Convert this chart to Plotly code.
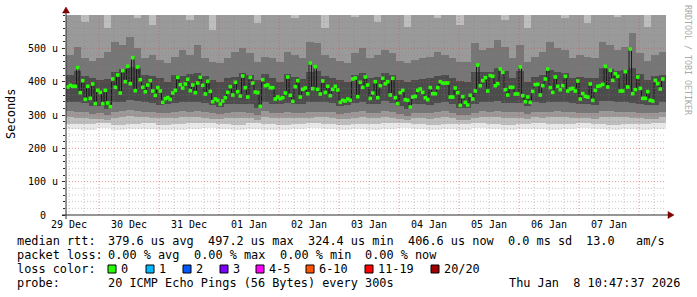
import pandas as pd
import plotly.graph_objects as go

# ---------------- data ----------------
START = pd.Timestamp("2025-12-29 10:47:37")
END = pd.Timestamp("2026-01-08 10:47:37")

# hourly median RTT (microseconds), first value centred at 29 Dec 11:30
median_us = [
    384, 389, 386, 386, 442, 367, 403, 347, 386, 350, 393, 334, 374, 368, 334, 374, 336, 325, 408, 383,
    420, 366, 433, 400, 446, 394, 472, 373, 444, 406, 383, 370, 390, 403, 372, 359, 382, 372, 338, 349,
    352, 347, 366, 374, 413, 391, 381, 393, 407, 373, 390, 367, 396, 413, 389, 363, 401, 371, 340, 348,
    344, 333, 342, 352, 368, 385, 360, 398, 370, 357, 417, 382, 354, 413, 396, 369, 367, 326, 406, 388,
    390, 382, 382, 348, 354, 349, 352, 366, 414, 359, 341, 385, 403, 354, 377, 381, 364, 456, 379, 445,
    377, 363, 402, 368, 386, 358, 377, 386, 375, 338, 344, 342, 348, 344, 408, 411, 355, 398, 383, 414,
    390, 350, 366, 400, 352, 388, 410, 394, 400, 360, 410, 352, 334, 367, 374, 346, 344, 324, 354, 356,
    374, 378, 368, 352, 346, 382, 364, 364, 382, 400, 396, 396, 396, 354, 354, 381, 367, 329, 355, 338,
    330, 359, 348, 372, 450, 388, 403, 412, 372, 418, 416, 388, 394, 438, 428, 376, 360, 383, 383, 363,
    363, 444, 358, 340, 354, 338, 371, 391, 392, 360, 388, 408, 438, 382, 368, 414, 386, 376, 388, 416,
    372, 378, 380, 372, 402, 348, 364, 356, 354, 393, 344, 374, 386, 388, 392, 446, 384, 434, 404, 424,
    416, 372, 372, 430, 384, 498, 364, 376, 414, 380, 350, 350, 370, 344, 342, 404, 394, 378, 408,
]

# smoke (ping spread), 6-hour columns: outer lower edges
smoke6_lo1 = [258, 256, 260, 255, 257, 259, 254, 256, 258, 260, 257, 255, 259, 256, 254, 258, 260, 257, 255, 258,
              256, 259, 261, 257, 255, 258, 256, 260, 258, 255, 257, 259, 256, 258, 260, 257, 255, 258, 256, 259]
smoke6_lo2 = [274, 272, 276, 271, 273, 275, 270, 272, 275, 276, 273, 271, 275, 272, 270, 274, 276, 273, 271, 274,
              272, 275, 277, 273, 271, 274, 272, 276, 274, 271, 273, 275, 272, 274, 276, 273, 271, 274, 272, 275]
SMOKE_TOP = 640

# smoke, 3-hour columns
smoke3_lo3 = [294, 292, 291, 288, 289, 286, 292, 294, 296, 294, 293, 292, 290, 290, 292, 294, 293, 293, 291, 289,
              287, 290, 291, 291, 290, 286, 294, 291, 290, 291, 290, 291, 292, 293, 293, 291, 288, 289, 291, 294,
              291, 291, 294, 291, 288, 285, 290, 290, 289, 292, 294, 291, 286, 286, 290, 294, 293, 295, 292, 292,
              291, 288, 293, 292, 293, 294, 293, 292, 290, 291, 289, 294, 294, 293, 293, 292, 291, 289, 289, 293]
smoke3_hi3 = [640, 640, 580, 640, 640, 560, 640, 640, 640, 590, 640, 570, 640, 640, 640, 640, 585, 640, 640, 555,
              640, 640, 600, 640, 640, 575, 640, 640, 640, 640, 590, 640, 640, 640, 560, 640, 640, 640, 595, 640,
              640, 580, 640, 640, 640, 565, 640, 640, 640, 590, 640, 640, 570, 640, 640, 640, 640, 640, 585, 640,
              640, 560, 640, 640, 640, 640, 590, 640, 640, 575, 640, 640, 640, 595, 640, 640, 640, 565, 640, 640]
smoke3_lo4 = [312, 310, 308, 304, 305, 300, 310, 312, 315, 312, 310, 309, 306, 306, 309, 312, 310, 311, 308, 305,
              302, 306, 308, 308, 307, 300, 312, 307, 306, 308, 306, 307, 310, 310, 310, 308, 304, 305, 308, 312,
              307, 307, 312, 308, 303, 298, 306, 306, 305, 309, 311, 307, 300, 300, 306, 311, 310, 313, 309, 309,
              308, 304, 310, 309, 310, 311, 310, 309, 306, 307, 305, 312, 312, 310, 310, 309, 307, 305, 305, 310]
smoke3_hi4 = [480, 505, 470, 462, 470, 490, 520, 510, 535, 500, 470, 480, 465, 455, 475, 495, 480, 510, 470, 460,
              455, 470, 490, 500, 485, 460, 475, 470, 458, 490, 480, 470, 520, 515, 480, 470, 462, 455, 485, 500,
              470, 480, 495, 485, 462, 455, 465, 470, 475, 490, 480, 470, 460, 458, 515, 495, 500, 525, 505, 470,
              510, 458, 475, 490, 520, 500, 495, 470, 480, 475, 470, 520, 510, 495, 505, 545, 485, 462, 480, 490]
smoke3_lo5 = [340, 338, 335, 326, 326, 318, 338, 340, 345, 342, 338, 336, 330, 332, 336, 340, 338, 338, 335, 330,
              325, 332, 334, 334, 334, 320, 340, 334, 332, 335, 332, 334, 338, 338, 338, 335, 328, 330, 335, 340,
              334, 334, 342, 335, 326, 318, 332, 332, 330, 336, 340, 334, 322, 322, 332, 340, 338, 342, 336, 336,
              335, 328, 338, 336, 338, 340, 338, 336, 332, 334, 330, 342, 342, 338, 338, 336, 333, 330, 330, 338]
smoke3_hi5 = [420, 432, 418, 412, 405, 408, 430, 438, 445, 440, 420, 418, 412, 400, 420, 418, 422, 425, 418, 405,
              398, 410, 415, 425, 420, 405, 422, 410, 400, 422, 415, 408, 430, 432, 418, 410, 405, 398, 420, 425,
              412, 415, 425, 420, 405, 398, 405, 408, 410, 418, 420, 410, 402, 400, 430, 428, 430, 440, 432, 412,
              432, 400, 415, 420, 435, 428, 425, 410, 415, 412, 410, 440, 438, 432, 435, 440, 422, 405, 418, 420]

day_labels = ["29 Dec", "30 Dec", "31 Dec", "01 Jan", "02 Jan", "03 Jan", "04 Jan", "05 Jan", "06 Jan", "07 Jan"]
y_tick_vals = [0, 100, 200, 300, 400, 500]
y_tick_text = ["0  ", "100 u", "200 u", "300 u", "400 u", "500 u"]

loss_labels = ["0", "1", "2", "3", "4-5", "6-10", "11-19", "20/20"]
loss_colors = ["#26ff00", "#00b8ff", "#0059ff", "#7e00ff", "#ff00ff", "#ff5500", "#ff0000", "#a10000"]

legend_line1 = [("median rtt:", 16), ("379.6 us avg", 107), ("497.2 us max", 207), ("324.4 us min", 307),
                ("406.6 us now", 407), ("0.0 ms sd", 507), ("13.0", 585), ("am/s", 635)]
legend_line2 = [("packet loss:", 16), ("0.00 % avg", 107), ("0.00 % max", 193), ("0.00 % min", 279),
                ("0.00 % now", 364)]
probe_text = "20 ICMP Echo Pings (56 Bytes) every 300s"
stamp_text = "Thu Jan  8 10:47:37 2026"

# ---------------- geometry helpers ----------------
W, H = 697, 297
L, R, T, B = 66, 666, 15, 215
MONO = "DejaVu Sans Mono"


def px(x):
    return (x - L) / (R - L)


def py(y):
    return (B - y) / (B - T)


def nb(s):
    return s.replace(" ", "\u00a0")


HOUR = pd.Timedelta(hours=1)
median_times = pd.date_range(pd.Timestamp("2025-12-29 11:30:00"), periods=len(median_us), freq="h")
t3 = [START + HOUR * (1.5 + 3 * k) for k in range(len(smoke3_lo3))]
t6 = [START + HOUR * (3 + 6 * k) for k in range(len(smoke6_lo1))]
W3 = 3 * 3600 * 1000
W6 = 6 * 3600 * 1000

fig = go.Figure()


def band(xs, lo, hi, width, color):
    fig.add_trace(go.Bar(
        x=xs, base=lo, y=[h - l for l, h in zip(lo, hi)], width=width,
        marker=dict(color=color, line=dict(width=0)), hoverinfo="skip", showlegend=False))


band(t6, smoke6_lo1, [SMOKE_TOP] * len(t6), W6, "#e8e8e8")
band(t6, smoke6_lo2, [SMOKE_TOP] * len(t6), W6, "#bebebe")
band(t3, smoke3_lo3, smoke3_hi3, W3, "#9a9a9a")
band(t3, smoke3_lo4, smoke3_hi4, W3, "#767676")
band(t3, smoke3_lo5, smoke3_hi5, W3, "#4c4c4c")

fig.add_trace(go.Scatter(x=median_times, y=median_us, mode="lines", line=dict(color="#1a1a1a", width=1, shape="hvh"),
                         hoverinfo="skip", showlegend=False))
fig.add_trace(go.Scatter(x=median_times, y=median_us, mode="markers",
                         marker=dict(symbol="square", size=3.6, color="#26ff00", line=dict(width=0)),
                         hoverinfo="skip", showlegend=False))

shapes = []
# grid (drawn above the smoke, as rrdtool does)
minor_col = "rgba(130,130,130,0.45)"
major_col = "rgba(222,72,72,0.55)"
t = pd.Timestamp("2025-12-29 12:00:00")
while t < END:
    is_major = (t.hour == 0)
    shapes.append(dict(type="line", xref="x", yref="paper", x0=t, x1=t, y0=0, y1=1, layer="above",
                       line=dict(color=major_col if is_major else minor_col, width=1, dash="1px,2px")))
    t += pd.Timedelta(hours=6)
for v in range(20, 600, 20):
    is_major = (v % 100 == 0)
    shapes.append(dict(type="line", xref="paper", yref="y", x0=0, x1=1, y0=v, y1=v, layer="above",
                       line=dict(color=major_col if is_major else minor_col, width=1, dash="1px,2px")))

# axes lines and arrows
axis_col = "#2c2c2c"
shapes.append(dict(type="line", xref="paper", yref="paper", x0=px(62), x1=px(668), y0=0, y1=0,
                   line=dict(color=axis_col, width=1), layer="above"))
shapes.append(dict(type="line", xref="paper", yref="paper", x0=0, x1=0, y0=py(219), y1=py(12),
                   line=dict(color=axis_col, width=1), layer="above"))
shapes.append(dict(type="path", xref="paper", yref="paper",
                   path=f"M {px(668)} {py(211.5)} L {px(674)} {py(215)} L {px(668)} {py(218.5)} Z",
                   fillcolor="#7f0000", line=dict(color="#7f0000", width=0.5), layer="above"))
shapes.append(dict(type="path", xref="paper", yref="paper",
                   path=f"M {px(62.5)} {py(13)} L {px(66)} {py(7)} L {px(69.5)} {py(13)} Z",
                   fillcolor="#7f0000", line=dict(color="#7f0000", width=0.5), layer="above"))

annotations = []
LEG_FONT = dict(family=MONO, size=11.86, color="#000000")


def text(s, x, y, anchor="left", font=LEG_FONT, angle=0):
    annotations.append(dict(text=nb(s), x=px(x), y=py(y), xref="paper", yref="paper", xanchor=anchor,
                            yanchor="middle", showarrow=False, font=font, borderpad=0, textangle=angle))


for s, x in legend_line1:
    text(s, x, 241)
for s, x in legend_line2:
    text(s, x, 255)
text("loss color:", 16, 269)
label_x = [120, 158, 195, 232, 268, 318, 377, 443]
for lab, col, lx in zip(loss_labels, loss_colors, label_x):
    shapes.append(dict(type="rect", xref="paper", yref="paper", x0=px(lx - 12), x1=px(lx - 4),
                       y0=py(273), y1=py(265), fillcolor=col, line=dict(color="#000000", width=1), layer="above"))
    text(lab, lx, 269)
text("probe:", 16, 283)
text(probe_text, 107, 283)
text(stamp_text, 681, 283, anchor="right")

# y-axis title and watermark
text("Seconds", 11, 114, anchor="center", font=dict(family=MONO, size=12, color="#000000"), angle=-90)
text("RRDTOOL / TOBI OETIKER", 688, 60, anchor="center", font=dict(family=MONO, size=8.3, color="#aaaaaa"),
     angle=90)

fig.update_layout(
    width=W, height=H, autosize=False,
    margin=dict(l=L, r=W - R, t=T, b=H - B, pad=0),
    paper_bgcolor="#ffffff", plot_bgcolor="#ffffff",
    barmode="overlay", bargap=0, showlegend=False,
    shapes=shapes, annotations=annotations,
    xaxis=dict(type="date", range=[START, END], autorange=False, showgrid=False, zeroline=False, showline=False,
               tickmode="array",
               tickvals=pd.date_range("2025-12-29 12:00:00", periods=len(day_labels), freq="D"),
               ticktext=day_labels, ticks="", tickfont=dict(family=MONO, size=10, color="#000000"),
               ticklabelstandoff=2),
    yaxis=dict(range=[0, 600], autorange=False, showgrid=False, zeroline=False, showline=False,
               tickmode="array", tickvals=y_tick_vals, ticktext=[nb(s) for s in y_tick_text],
               ticks="outside", ticklen=3, tickcolor=axis_col,
               tickfont=dict(family=MONO, size=10, color="#000000"), ticklabelstandoff=2,
               minor=dict(ticks="outside", ticklen=2, dtick=20, tick0=0, tickcolor=axis_col, showgrid=False)),
)

fig.write_html("out.html", config={"displayModeBar": False, "staticPlot": True})
